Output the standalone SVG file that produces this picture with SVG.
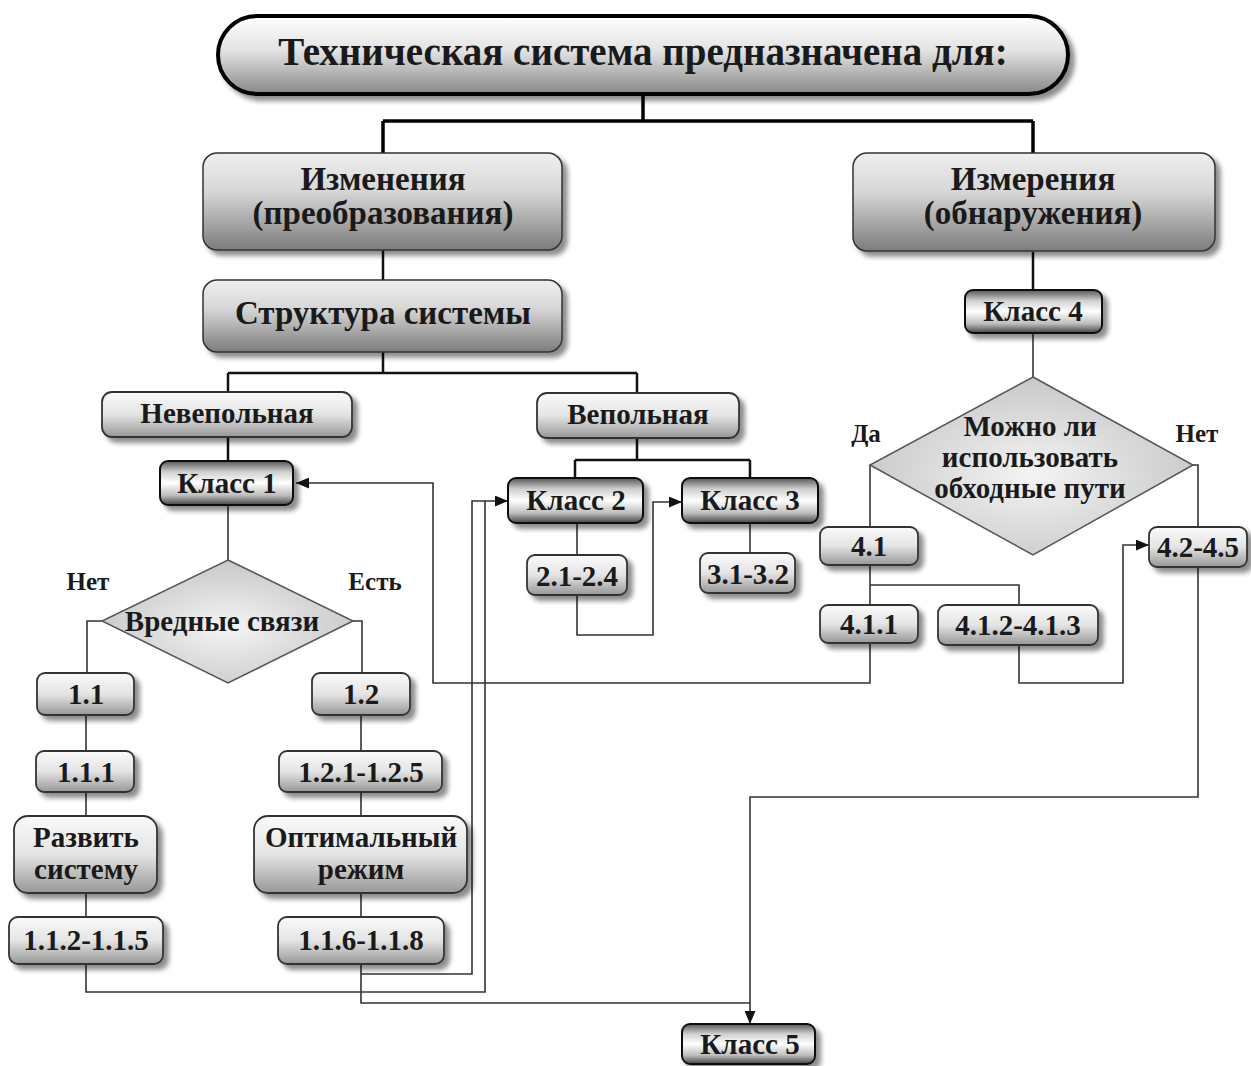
<svg xmlns="http://www.w3.org/2000/svg" width="1251" height="1066" viewBox="0 0 1251 1066">
  <defs>
    <linearGradient id="gTitle" x1="0" y1="0" x2="0" y2="1">
      <stop offset="0" stop-color="#ffffff"/>
      <stop offset="0.45" stop-color="#e2e2e2"/>
      <stop offset="1" stop-color="#878787"/>
    </linearGradient>
    <linearGradient id="gBig" x1="0" y1="0" x2="0" y2="1">
      <stop offset="0" stop-color="#efefef"/>
      <stop offset="0.4" stop-color="#d6d6d6"/>
      <stop offset="1" stop-color="#7c7c7c"/>
    </linearGradient>
    <linearGradient id="gSmall" x1="0" y1="0" x2="0" y2="1">
      <stop offset="0" stop-color="#fafafa"/>
      <stop offset="0.5" stop-color="#e4e4e4"/>
      <stop offset="1" stop-color="#979797"/>
    </linearGradient>
    <linearGradient id="gClass" x1="0" y1="0" x2="0" y2="1">
      <stop offset="0" stop-color="#555555"/>
      <stop offset="0.25" stop-color="#d0d0d0"/>
      <stop offset="0.5" stop-color="#ffffff"/>
      <stop offset="0.78" stop-color="#bdbdbd"/>
      <stop offset="1" stop-color="#444444"/>
    </linearGradient>
    <radialGradient id="gDiamond" cx="0.5" cy="0.55" r="0.6">
      <stop offset="0" stop-color="#f4f4f4"/>
      <stop offset="1" stop-color="#c4c4c4"/>
    </radialGradient>
    <filter id="shadow" x="-10%" y="-20%" width="125%" height="150%">
      <feGaussianBlur in="SourceAlpha" stdDeviation="2.5"/>
      <feOffset dx="5" dy="5" result="b"/>
      <feComponentTransfer><feFuncA type="linear" slope="0.45"/></feComponentTransfer>
      <feMerge><feMergeNode/><feMergeNode in="SourceGraphic"/></feMerge>
    </filter>
    <marker id="arrow" viewBox="0 0 12 10" refX="12" refY="5" markerWidth="13" markerHeight="11" markerUnits="userSpaceOnUse" orient="auto">
      <path d="M0 0 L12 5 L0 10 Z" fill="#111"/>
    </marker>
    <style>
      text { font-family: "Liberation Serif", "Times New Roman", serif; font-weight: bold; fill: #1a1a1a; text-anchor: middle; }
      .t-title { font-size: 39px; }
      .t-big { font-size: 33px; }
      .t-node { font-size: 29px; }
      .t-lbl { font-size: 25px; }
      .title { fill: url(#gTitle); stroke: #000; stroke-width: 4; filter: url(#shadow); }
      .big { fill: url(#gBig); stroke: #333; stroke-width: 1.5; filter: url(#shadow); }
      .small { fill: url(#gSmall); stroke: #333; stroke-width: 1.8; filter: url(#shadow); }
      .cls { fill: url(#gClass); stroke: #111; stroke-width: 2; filter: url(#shadow); }
      .dia { fill: url(#gDiamond); stroke: #555; stroke-width: 1.5; }
      .c-thick { fill: none; stroke: #000; stroke-width: 3.5; }
      .c-mid { fill: none; stroke: #111; stroke-width: 2.5; }
      .c-thin { fill: none; stroke: #333; stroke-width: 1.6; }
    </style>
  </defs>

  <rect width="1251" height="1066" fill="#ffffff"/>

  <!-- connectors -->
  <g id="connectors">
    <path class="c-thick" d="M643 95 V121 M383 121 H1033 M383 121 V153 M1033 121 V153"/>
    <path class="c-mid" d="M383 250 V280 M1033 252 V290"/>
    <path class="c-mid" d="M383 352 V373 M228 373 H637 M228 373 V392 M637 373 V393"/>
    <path class="c-thin" d="M1033 333 V377"/>
    <path class="c-mid" d="M228 437 V461"/>
    <path class="c-mid" d="M637 438 V460 M575 460 H750 M575 460 V478 M750 460 V478"/>
    <path class="c-thin" d="M228 505 V560"/>
    <path class="c-thin" d="M102 621 H87 V673 M353 621 H362 V673"/>
    <path class="c-thin" d="M86 715 V751 M86 792 V816 M86 893 V917"/>
    <path class="c-thin" d="M361 715 V751 M361 792 V816 M361 893 V917"/>
    <path class="c-thin" d="M86 964 V992 H485 V501"/>
    <path class="c-thin" d="M361 974 H472 V501 H508" marker-end="url(#arrow)"/>
    <path class="c-thin" d="M361 964 V1003 H750"/>
    <path class="c-thin" d="M577 523 V555 M577 595 V635 H653 V502 H682" marker-end="url(#arrow)"/>
    <path class="c-thin" d="M750 523 V553"/>
    <path class="c-thin" d="M870 465 V527 M1193 465 H1198 V527"/>
    <path class="c-thin" d="M870 565 V605 M870 585 H1019 V605"/>
    <path class="c-thin" d="M870 643 V683 H433 V483 H296" marker-end="url(#arrow)"/>
    <path class="c-thin" d="M1019 645 V683 H1123 V545 H1149" marker-end="url(#arrow)"/>
    <path class="c-thin" d="M1198 567 V797 H750 V1024" marker-end="url(#arrow)"/>
  </g>

  <!-- top level -->
  <g id="title">
    <rect class="title" x="218" y="16" width="850" height="78" rx="39"/>
    <text class="t-title" x="643" y="65">Техническая система предназначена для:</text>
  </g>
  <g id="izmeneniya">
    <rect class="big" x="203" y="153" width="359" height="97" rx="14"/>
    <text class="t-big" x="383" y="190">Изменения</text>
    <text class="t-big" x="383" y="224">(преобразования)</text>
  </g>
  <g id="izmereniya">
    <rect class="big" x="853" y="153" width="362" height="98" rx="14"/>
    <text class="t-big" x="1033" y="190">Измерения</text>
    <text class="t-big" x="1033" y="224">(обнаружения)</text>
  </g>
  <g id="struktura">
    <rect class="big" x="203" y="280" width="359" height="72" rx="14"/>
    <text class="t-big" x="383" y="324">Структура системы</text>
  </g>

  <!-- left branch -->
  <g id="nevepolnaya">
    <rect class="small" x="102" y="392" width="250" height="45" rx="10"/>
    <text class="t-node" x="227" y="423">Невепольная</text>
  </g>
  <g id="vepolnaya">
    <rect class="small" x="537" y="393" width="202" height="45" rx="10"/>
    <text class="t-node" x="638" y="424">Вепольная</text>
  </g>
  <g id="klass1">
    <rect class="cls" x="160" y="461" width="133" height="44" rx="8"/>
    <text class="t-node" x="227" y="493">Класс 1</text>
  </g>
  <g id="vrednye-svyazi">
    <polygon class="dia" points="228,560 353,621 228,683 102,621"/>
    <text class="t-node" x="222" y="631">Вредные связи</text>
  </g>
  <text class="t-lbl" x="88" y="590">Нет</text>
  <text class="t-lbl" x="375" y="590">Есть</text>

  <g id="n1-1">
    <rect class="small" x="37" y="673" width="97" height="42" rx="8"/>
    <text class="t-node" x="86" y="704">1.1</text>
  </g>
  <g id="n1-2">
    <rect class="small" x="312" y="673" width="98" height="42" rx="8"/>
    <text class="t-node" x="361" y="704">1.2</text>
  </g>
  <g id="n1-1-1">
    <rect class="small" x="36" y="751" width="98" height="41" rx="8"/>
    <text class="t-node" x="86" y="782">1.1.1</text>
  </g>
  <g id="n1-2-1">
    <rect class="small" x="279" y="751" width="163" height="41" rx="8"/>
    <text class="t-node" x="361" y="782">1.2.1-1.2.5</text>
  </g>
  <g id="razvit">
    <rect class="small" x="14" y="816" width="143" height="77" rx="14"/>
    <text class="t-node" x="86" y="847">Развить</text>
    <text class="t-node" x="86" y="879">систему</text>
  </g>
  <g id="optimalny">
    <rect class="small" x="254" y="816" width="213" height="77" rx="14"/>
    <text class="t-node" x="361" y="847">Оптимальный</text>
    <text class="t-node" x="361" y="879">режим</text>
  </g>
  <g id="n1-1-2">
    <rect class="small" x="9" y="917" width="154" height="47" rx="9"/>
    <text class="t-node" x="86" y="950">1.1.2-1.1.5</text>
  </g>
  <g id="n1-1-6">
    <rect class="small" x="278" y="917" width="166" height="47" rx="9"/>
    <text class="t-node" x="361" y="950">1.1.6-1.1.8</text>
  </g>

  <!-- vepolnaya branch -->
  <g id="klass2">
    <rect class="cls" x="508" y="478" width="135" height="45" rx="8"/>
    <text class="t-node" x="576" y="510">Класс 2</text>
  </g>
  <g id="klass3">
    <rect class="cls" x="682" y="478" width="136" height="45" rx="8"/>
    <text class="t-node" x="750" y="510">Класс 3</text>
  </g>
  <g id="n2-1">
    <rect class="small" x="527" y="555" width="100" height="40" rx="8"/>
    <text class="t-node" x="577" y="586">2.1-2.4</text>
  </g>
  <g id="n3-1">
    <rect class="small" x="700" y="553" width="95" height="40" rx="8"/>
    <text class="t-node" x="748" y="584">3.1-3.2</text>
  </g>

  <!-- measurement branch -->
  <g id="klass4">
    <rect class="cls" x="965" y="290" width="137" height="43" rx="8"/>
    <text class="t-node" x="1033" y="321">Класс 4</text>
  </g>
  <g id="obkhodnye">
    <polygon class="dia" points="1033,377 1193,465 1033,555 870,465"/>
    <text class="t-node" x="1030" y="436">Можно ли</text>
    <text class="t-node" x="1030" y="467">использовать</text>
    <text class="t-node" x="1030" y="498">обходные пути</text>
  </g>
  <text class="t-lbl" x="866" y="442">Да</text>
  <text class="t-lbl" x="1197" y="442">Нет</text>

  <g id="n4-1">
    <rect class="small" x="820" y="527" width="98" height="38" rx="8"/>
    <text class="t-node" x="869" y="556">4.1</text>
  </g>
  <g id="n4-2">
    <rect class="small" x="1149" y="527" width="98" height="40" rx="8"/>
    <text class="t-node" x="1198" y="557">4.2-4.5</text>
  </g>
  <g id="n4-1-1">
    <rect class="small" x="820" y="605" width="98" height="38" rx="8"/>
    <text class="t-node" x="869" y="634">4.1.1</text>
  </g>
  <g id="n4-1-2">
    <rect class="small" x="938" y="605" width="160" height="40" rx="8"/>
    <text class="t-node" x="1018" y="635">4.1.2-4.1.3</text>
  </g>

  <g id="klass5">
    <rect class="cls" x="682" y="1024" width="133" height="40" rx="8"/>
    <text class="t-node" x="750" y="1054">Класс 5</text>
  </g>
</svg>
